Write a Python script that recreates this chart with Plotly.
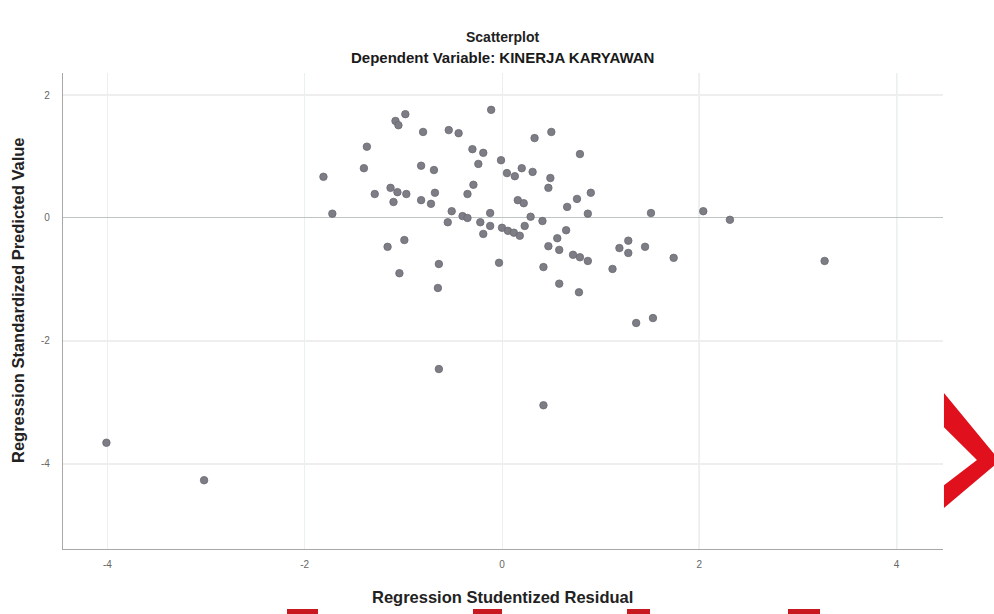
import plotly.graph_objects as go

# Regression Studentized Residual (x) and Regression Standardized Predicted Value (y)
studentized_residual = [
    -4.01, -3.02, -1.81, -1.72, -1.40, -1.37, -1.29, -1.16, -1.13, -1.10,
    -1.08, -1.05, -1.06, -1.04, -0.99, -0.98, -0.97, -0.82, -0.82, -0.80,
    -0.72, -0.69, -0.68, -0.65, -0.64, -0.64, -0.55, -0.54, -0.51, -0.44,
    -0.40, -0.35, -0.35, -0.30, -0.29, -0.24, -0.22, -0.19, -0.19, -0.12,
    -0.12, -0.11, -0.03, -0.01, 0.00, 0.06, 0.12, 0.18, 0.05, 0.13,
    0.16, 0.22, 0.20, 0.23, 0.29, 0.31, 0.33, 0.41, 0.42, 0.42,
    0.47, 0.47, 0.49, 0.50, 0.56, 0.58, 0.58, 0.65, 0.66, 0.72,
    0.79, 0.76, 0.79, 0.78, 0.87, 0.87, 0.90, 1.12, 1.19, 1.28,
    1.28, 1.36, 1.45, 1.51, 1.53, 1.74, 2.04, 2.31, 3.27,
]
standardized_predicted = [
    -3.66, -4.27, 0.67, 0.07, 0.81, 1.16, 0.39, -0.47, 0.49, 0.26,
    1.58, 1.51, 0.42, -0.90, -0.36, 1.69, 0.39, 0.85, 0.29, 1.40,
    0.23, 0.78, 0.41, -1.14, -0.75, -2.46, -0.07, 1.43, 0.11, 1.38,
    0.03, 0.00, 0.39, 1.12, 0.54, 0.88, -0.07, 1.06, -0.26, 0.08,
    -0.13, 1.76, -0.73, 0.94, -0.16, -0.21, -0.24, -0.29, 0.73, 0.68,
    0.29, 0.24, 0.81, -0.13, 0.02, 0.75, 1.30, -0.05, -0.80, -3.05,
    0.49, -0.46, 0.65, 1.40, -0.33, -0.52, -1.07, -0.20, 0.18, -0.60,
    -0.64, 0.31, 1.04, -1.21, -0.70, 0.07, 0.41, -0.83, -0.49, -0.57,
    -0.37, -1.71, -0.47, 0.08, -1.63, -0.65, 0.11, -0.03, -0.70,
]
x_ticks = [-4, -2, 0, 2, 4]
y_ticks = [-4, -2, 0, 2]

FONT = "Liberation Sans, Arial, sans-serif"

fig = go.Figure()
fig.add_trace(go.Scatter(
    x=studentized_residual, y=standardized_predicted, mode="markers",
    marker=dict(size=7.5, color="#7d7d85", line=dict(width=0.8, color="#6a6a72")),
    showlegend=False, hoverinfo="x+y",
))

# darker reference lines
for xv in [2, 4]:
    fig.add_shape(type="line", xref="x", yref="paper", x0=xv, x1=xv, y0=0, y1=1,
                  line=dict(color="#c9cccc", width=1.2), layer="below")

# decorative red chevron on the right edge (paper coordinates)
fig.add_shape(type="path", xref="paper", yref="paper",
              path="M 1.0011,0.3277 L 1.0591,0.1975 L 1.0591,0.1765 L 1.0011,0.0861 "
                   "L 1.0011,0.1340 L 1.0386,0.1870 L 1.0011,0.2560 Z",
              fillcolor="#e0101c", line=dict(width=0), layer="above")
# small red fragments along the bottom edge
for x0, x1 in [(287, 318), (473, 502), (627, 650), (788, 820)]:
    fig.add_shape(type="rect", xref="paper", yref="paper",
                  x0=(x0 - 63) / 880, x1=(x1 - 63) / 880,
                  y0=(549 - 614) / 476, y1=(549 - 609) / 476,
                  fillcolor="#c81820", line=dict(width=0), layer="above")

fig.update_layout(
    width=994, height=614,
    margin=dict(l=63, r=51, t=73, b=65, autoexpand=False),
    paper_bgcolor="white", plot_bgcolor="white",
    font=dict(family=FONT, color="#333"),
    xaxis=dict(
        range=[-4.45, 4.47], tickvals=x_ticks, ticktext=[str(v) for v in x_ticks],
        showgrid=True, gridcolor="#e9f0ef", gridwidth=1.2,
        zeroline=False, showline=True, linecolor="#a8a8a8", linewidth=1.3,
        tickfont=dict(size=10, color="#666"), ticks="", ticklen=0,
        automargin=False, ticklabelstandoff=6,
    ),
    yaxis=dict(
        range=[-5.39, 2.36], tickvals=y_ticks, ticktext=[str(v) for v in y_ticks],
        showgrid=True, gridcolor="#eeeeee", gridwidth=1.5,
        zeroline=True, zerolinecolor="#bcc4c4", zerolinewidth=1.3,
        showline=True, linecolor="#a8a8a8", linewidth=1.3,
        tickfont=dict(size=10, color="#666"), ticks="", ticklen=0,
        automargin=False, ticklabelstandoff=10,
    ),
)

PX = lambda px: (px - 63) / 880
PY = lambda py: (549 - py) / 476

fig.add_annotation(text="<b>Scatterplot</b>", xref="paper", yref="paper",
                   x=PX(502), y=PY(37), showarrow=False,
                   font=dict(size=14, color="#222"), yanchor="middle")
fig.add_annotation(text="<b>Dependent Variable: KINERJA KARYAWAN</b>", xref="paper", yref="paper",
                   x=PX(502), y=PY(58), showarrow=False,
                   font=dict(size=15, color="#1a1a1a"), yanchor="middle")
fig.add_annotation(text="<b>Regression Studentized Residual</b>", xref="paper", yref="paper",
                   x=PX(502), y=PY(597), showarrow=False,
                   font=dict(size=16.5, color="#222"), yanchor="middle")
fig.add_annotation(text="<b>Regression Standardized Predicted Value</b>", xref="paper", yref="paper",
                   x=PX(18), y=PY(300), showarrow=False, textangle=-90,
                   font=dict(size=16.5, color="#222"), xanchor="center", yanchor="middle")

fig.write_html("out.html",
               config={"displayModeBar": False},
               post_script="document.body.style.margin='0';document.body.style.overflow='hidden';")
